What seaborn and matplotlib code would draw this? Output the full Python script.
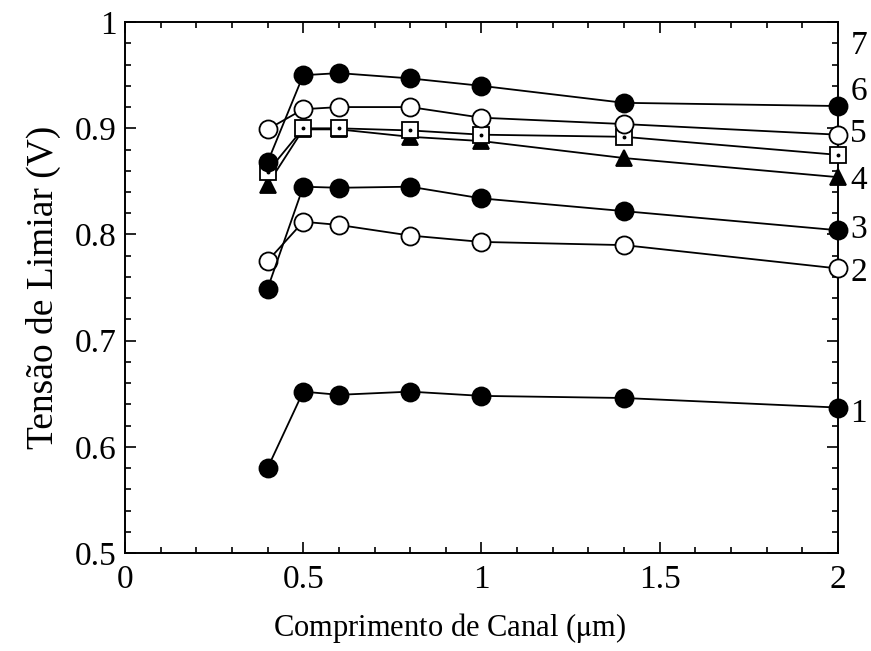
import numpy as np
import pandas as pd
import matplotlib
matplotlib.use("Agg")
import matplotlib.pyplot as plt
from matplotlib.ticker import MultipleLocator
import seaborn as sns

# Channel length (µm) shared by every curve
length_um = [0.4, 0.5, 0.6, 0.8, 1.0, 1.4, 2.0]

# Threshold voltage (V) for each curve
vt_curve1 = [0.580, 0.652, 0.649, 0.652, 0.648, 0.646, 0.637]
vt_curve2 = [0.775, 0.812, 0.809, 0.799, 0.793, 0.790, 0.768]
vt_curve3 = [0.749, 0.845, 0.844, 0.845, 0.834, 0.822, 0.804]
vt_curve4 = [0.847, 0.899, 0.899, 0.892, 0.888, 0.872, 0.854]
vt_square = [0.859, 0.900, 0.900, 0.898, 0.894, 0.892, 0.875]
vt_curve5 = [0.899, 0.918, 0.920, 0.920, 0.910, 0.904, 0.894]
vt_curve6 = [0.868, 0.950, 0.952, 0.947, 0.940, 0.924, 0.921]

# Curve numbers written beside the right axis
curve_labels = ["1", "2", "3", "4", "5", "6", "7"]
curve_label_y = [0.631, 0.764, 0.804, 0.851, 0.895, 0.934, 0.978]

x_ticks = [0, 0.5, 1, 1.5, 2]
x_tick_labels = ["0", "0.5", "1", "1.5", "2"]
y_ticks = [0.5, 0.6, 0.7, 0.8, 0.9, 1.0]
y_tick_labels = ["0.5", "0.6", "0.7", "0.8", "0.9", "1"]

sns.set_style("ticks")
plt.rcParams["font.family"] = ["Liberation Serif", "DejaVu Serif"]
plt.rcParams["mathtext.fontset"] = "stix"
plt.rcParams["text.color"] = "black"
plt.rcParams["axes.labelcolor"] = "black"
plt.rcParams["xtick.color"] = "black"
plt.rcParams["ytick.color"] = "black"

fig = plt.figure(figsize=(8.71, 6.51), dpi=100)
ax = fig.add_axes([0.1435, 0.1505, 0.8185, 0.8155])

line_kw = dict(color="black", linewidth=1.3, markeredgecolor="black",
               markeredgewidth=1.3, legend=False, zorder=3)

series = [
    (vt_curve4, "^", "black", 12),
    (vt_square, "s", "white", 12),
    (vt_curve1, "o", "black", 13),
    (vt_curve2, "o", "white", 13),
    (vt_curve3, "o", "black", 13),
    (vt_curve5, "o", "white", 13),
    (vt_curve6, "o", "black", 13),
]
for vals, mk, face, ms in series:
    df = pd.DataFrame({"L": length_um, "Vt": vals})
    sns.lineplot(data=df, x="L", y="Vt", ax=ax, marker=mk,
                 markerfacecolor=face, markersize=ms, **line_kw)

# small dot at the centre of each square marker
ax.plot(length_um, vt_square, linestyle="none", marker="o", markersize=1.8,
        color="black", zorder=4, clip_on=False)

ax.set_xlim(0, 2)
ax.set_ylim(0.5, 1.0)
ax.set_xticks(x_ticks)
ax.set_xticklabels(x_tick_labels)
ax.set_yticks(y_ticks)
ax.set_yticklabels(y_tick_labels)
ax.xaxis.set_minor_locator(MultipleLocator(0.1))
ax.yaxis.set_minor_locator(MultipleLocator(0.02))
ax.tick_params(axis="both", which="both", direction="in", top=True, right=True,
               labelsize=24, width=1.2, colors="black", labelcolor="black")
ax.tick_params(which="major", length=8)
ax.tick_params(which="minor", length=4.5)
ax.tick_params(axis="x", pad=8)
ax.tick_params(axis="y", pad=6)
for sp in ax.spines.values():
    sp.set_linewidth(1.4)
    sp.set_color("black")
    sp.set_visible(True)

for line in ax.get_lines():
    line.set_clip_on(False)

ax.set_xlabel("Comprimento de Canal ($\\mathrm{\\mu}$m)", fontsize=22,
              color="black")
ax.xaxis.set_label_coords(0.455, -0.11)
ax.set_ylabel("Tensão de Limiar (V)", fontsize=27, labelpad=10, color="black")

for lab, yv in zip(curve_labels, curve_label_y):
    ax.text(2.035, yv, lab, fontsize=24, va="center", ha="left",
            color="black", transform=ax.transData, clip_on=False)

fig.savefig("out.png", dpi=100, facecolor="white")
